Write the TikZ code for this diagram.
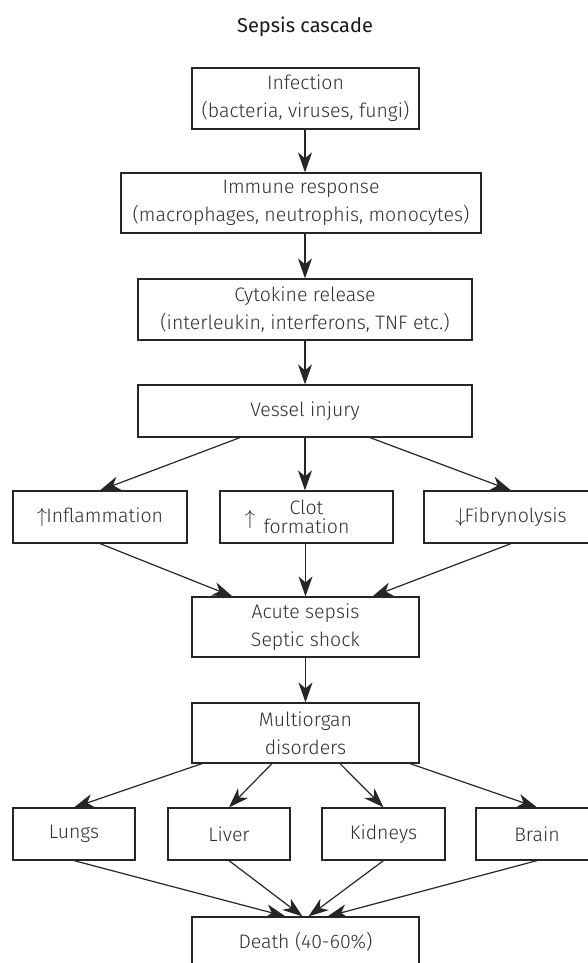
\documentclass[tikz,border=0pt]{standalone}
\usepackage{fontspec}
\setmainfont{Fira Sans Light}
\newfontfamily\titlefont{Fira Sans}
\usetikzlibrary{arrows.meta,calc}
\definecolor{ink}{HTML}{262626}
\definecolor{txt}{HTML}{2E2E2E}
\tikzset{
  box/.style={draw=ink, line width=1.2pt, text=txt, align=center, inner sep=0pt,
    font=\fontsize{19.5}{28}\selectfont},
  arr/.style={draw=ink, line width=1.2pt, -{Stealth[length=20pt,width=14pt,inset=6pt]}},
  ttl/.style={text=black!90, font=\titlefont\fontsize{20}{24}\selectfont},
}
\begin{document}
\begin{tikzpicture}[x=1pt,y=-1pt]
\useasboundingbox (0,0) rectangle (587,963);
\node[ttl] (title) at (305,27) {Sepsis cascade};
\node[box, minimum width=227, minimum height=61] (inf) at (305.5,98.5) {Infection\\(bacteria, viruses, fungi)};
\node[box, minimum width=360, minimum height=60] (imm) at (301,203) {Immune response\\(macrophages, neutrophis, monocytes)};
\node[box, minimum width=334, minimum height=61] (cyt) at (305,309.5) {Cytokine release\\(interleukin, interferons, TNF etc.)};
\node[box, minimum width=334, minimum height=52] (ves) at (305,411) {Vessel injury};
\node[box, minimum width=174, minimum height=52] (infl) at (100,517) {$\uparrow$\kern-1ptInflammation};
\node[box, minimum width=173, minimum height=52, font=\fontsize{19.5}{19}\selectfont] (clot) at (306.5,517) {Clot\\formation};
\node[text=txt, font=\fontsize{19.5}{24}\selectfont, inner sep=0pt] (clotarrow) at (250,519) {$\uparrow$};
\node[box, minimum width=174, minimum height=52] (fib) at (511,517) {$\downarrow$\kern-1ptFibrynolysis};
\node[box, minimum width=227, minimum height=60] (acu) at (305.5,627) {Acute sepsis\\Septic shock};
\node[box, minimum width=227, minimum height=60] (mul) at (305.5,733) {Multiorgan\\disorders};
\node[box, minimum width=122, minimum height=52] (lun) at (74,834) {Lungs};
\node[box, minimum width=122, minimum height=52] (liv) at (229,834) {Liver};
\node[box, minimum width=123, minimum height=52] (kid) at (383.5,834) {Kidneys};
\node[box, minimum width=122, minimum height=52] (bra) at (537,834) {Brain};
\node[box, minimum width=227, minimum height=50] (dea) at (305.5,942) {Death (40-60\%)};
\draw[arr] (inf.south -| 305,0) -- (imm.north -| 305,0);
\draw[arr] (imm.south -| 305,0) -- (cyt.north);
\draw[arr] (cyt.south) -- (ves.north);
\draw[arr] ($(ves.south)+(-65,0)$) -- (infl.north);
\draw[arr] (ves.south) -- (ves.south |- clot.north);
\draw[arr] ($(ves.south)+(65,0)$) -- (fib.north);
\draw[arr] (infl.south) -- ($(acu.north)+(-73,0)$);
\draw[arr] (clot.south -| acu.north) -- (acu.north);
\draw[arr] (fib.south) -- ($(acu.north)+(67,0)$);
\draw[arr] (acu.south) -- (mul.north);
\draw[arr] ($(mul.south)+(-103.5,0)$) -- (lun.north);
\draw[arr] ($(mul.south)+(-33.5,0)$) -- (liv.north);
\draw[arr] ($(mul.south)+(34.5,0)$) -- (kid.north);
\draw[arr] ($(mul.south)+(104.5,0)$) -- (bra.north);
\draw[arr] (lun.south) -- ($(dea.north)+(-20,0)$);
\draw[arr] (liv.south) -- ($(dea.north)+(-3,0)$);
\draw[arr] (kid.south) -- ($(dea.north)+(3,0)$);
\draw[arr] (bra.south) -- ($(dea.north)+(22,0)$);
\end{tikzpicture}
\end{document}
